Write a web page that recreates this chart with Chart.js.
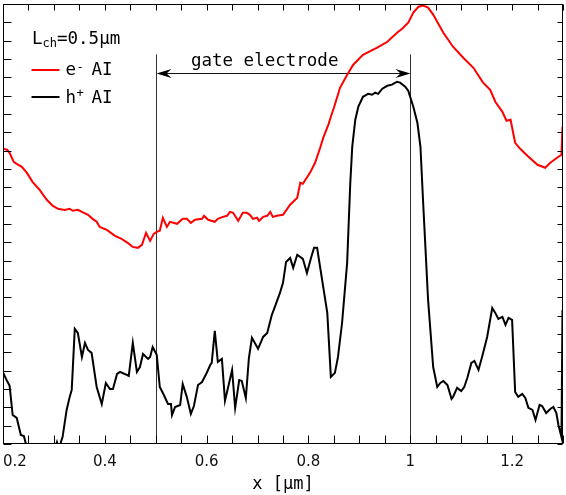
<!DOCTYPE html>
<html>
<head>
<meta charset="utf-8">
<script src="https://cdn.jsdelivr.net/npm/chart.js@4.4.1/dist/chart.umd.min.js"></script>
<style>
  html, body { margin: 0; padding: 0; background: #fff; }
  #wrap { width: 566px; height: 495px; position: relative; }
</style>
</head>
<body>
<div id="wrap"><canvas id="c" width="566" height="495"></canvas></div>
<script>
// ---- data ----
const eX = [0.200,0.208,0.213,0.221,0.227,0.237,0.247,0.258,0.272,0.286,0.298,0.308,0.321,0.331,0.337,0.347,0.355,0.367,0.376,0.384,0.390,0.404,0.420,0.433,0.445,0.455,0.465,0.473,0.481,0.489,0.496,0.502,0.508,0.514,0.522,0.528,0.542,0.553,0.561,0.569,0.577,0.591,0.595,0.603,0.616,0.622,0.632,0.640,0.646,0.652,0.662,0.671,0.679,0.685,0.691,0.699,0.703,0.711,0.719,0.725,0.730,0.738,0.750,0.764,0.778,0.784,0.789,0.803,0.813,0.823,0.829,0.839,0.844,0.850,0.862,0.876,0.888,0.907,0.935,0.955,0.974,0.984,0.996,1.006,1.016,1.025,1.035,1.045,1.065,1.084,1.104,1.124,1.143,1.157,1.167,1.181,1.189,1.197,1.206,1.216,1.230,1.250,1.265,1.275,1.291,1.297,1.299];
const eY = [16.10,16.05,15.88,15.39,15.28,15.12,14.79,14.30,13.86,13.32,12.99,12.83,12.77,12.83,12.72,12.77,12.66,12.50,12.28,12.12,11.84,11.68,11.35,11.19,10.97,10.75,10.70,10.86,11.52,11.08,11.46,11.57,11.63,12.34,11.84,12.12,12.01,12.28,12.28,12.06,12.23,12.28,12.45,12.23,12.12,12.28,12.39,12.45,12.66,12.61,12.17,12.61,12.61,12.50,12.28,12.34,12.17,12.39,12.45,12.66,12.39,12.45,12.50,13.05,13.43,14.25,14.19,14.79,15.34,16.16,16.70,17.41,17.85,18.34,19.43,20.14,20.69,21.23,21.62,21.94,22.43,22.65,22.98,23.53,23.85,23.91,23.80,23.42,22.43,21.67,21.07,20.52,19.71,19.32,18.67,18.12,17.63,17.69,16.43,16.10,15.72,15.23,15.07,15.34,15.67,15.77,17.30];

const hX = [0.200,0.207,0.213,0.219,0.227,0.235,0.241,0.245,0.260,0.290,0.300,0.306,0.309,0.313,0.317,0.325,0.331,0.335,0.341,0.347,0.355,0.361,0.367,0.374,0.384,0.394,0.402,0.410,0.416,0.424,0.430,0.439,0.447,0.455,0.463,0.469,0.475,0.485,0.489,0.494,0.502,0.508,0.516,0.524,0.530,0.532,0.538,0.548,0.553,0.561,0.569,0.575,0.583,0.591,0.601,0.607,0.610,0.616,0.622,0.630,0.636,0.650,0.656,0.664,0.669,0.677,0.683,0.689,0.701,0.711,0.719,0.728,0.734,0.744,0.750,0.756,0.764,0.770,0.778,0.789,0.797,0.805,0.811,0.817,0.829,0.837,0.844,0.852,0.858,0.866,0.876,0.882,0.886,0.892,0.898,0.907,0.917,0.925,0.931,0.937,0.945,0.955,0.964,0.974,0.980,0.990,0.996,1.006,1.014,1.020,1.025,1.035,1.045,1.053,1.059,1.065,1.073,1.081,1.084,1.092,1.100,1.106,1.112,1.120,1.126,1.134,1.141,1.151,1.161,1.167,1.173,1.181,1.187,1.193,1.200,1.206,1.212,1.220,1.226,1.232,1.240,1.246,1.254,1.259,1.267,1.275,1.281,1.287,1.291,1.297,1.299];
const hY = [3.90,3.49,3.17,1.58,1.42,0.49,0.44,0.00,-1.00,-1.00,-0.40,0.10,-0.20,0.05,0.38,1.86,2.57,2.95,6.28,6.06,4.75,5.51,5.13,4.97,3.11,2.18,3.33,3.00,3.00,3.82,3.93,3.82,3.71,5.51,3.93,4.20,4.91,4.64,4.75,5.29,4.86,3.11,2.67,2.18,2.18,1.58,2.02,2.13,3.28,2.57,1.64,2.07,3.22,3.38,3.93,4.31,4.42,6.17,4.48,4.64,2.35,4.04,1.97,3.49,3.44,2.51,4.69,5.79,5.19,5.84,6.06,7.04,7.48,8.24,8.79,9.93,10.15,9.61,10.32,10.10,9.33,10.15,10.70,10.70,8.57,7.15,3.66,3.88,4.75,6.60,9.88,14.14,16.21,17.69,18.40,18.94,19.10,19.05,19.16,19.10,19.38,19.54,19.60,19.76,19.71,19.49,19.27,18.40,17.52,16.21,13.32,7.86,4.20,3.11,3.33,3.44,3.22,2.46,2.57,3.06,2.89,3.11,3.60,4.42,4.53,4.04,4.75,5.84,7.42,7.15,6.82,6.93,6.50,6.88,6.77,2.84,2.57,2.73,2.51,1.97,1.86,1.31,2.13,2.07,1.69,1.91,2.02,1.69,1.04,0.38,7.31];

const xTickValues = [0.2, 0.4, 0.6, 0.8, 1.0, 1.2, 1.3];
const xTickLabels = ['0.2', '0.4', '0.6', '0.8', '1', '1.2', ''];
const xRange = [0.2, 1.3];
const yRange = [0, 24];
const gateX = [0.5, 1.0];
const gateTop = 21.25;
const arrowY = 20.23;

// ---- helpers ----
const toPts = (xs, ys) => xs.map((v, i) => ({ x: v, y: ys[i] }));
const MONO = '"DejaVu Sans Mono", monospace';

const decor = {
  id: 'decor',
  beforeDatasetsDraw(chart) {
    const { ctx, chartArea: a, scales: { x, y } } = chart;
    ctx.save();
    ctx.strokeStyle = '#333';
    ctx.lineWidth = 1;
    gateX.forEach(v => {
      const px = Math.round(x.getPixelForValue(v)) + 0.5;
      ctx.beginPath();
      ctx.moveTo(px, y.getPixelForValue(gateTop));
      ctx.lineTo(px, a.bottom);
      ctx.stroke();
    });
    // arrow
    const x1 = Math.round(x.getPixelForValue(gateX[0])) + 0.5;
    const x2 = Math.round(x.getPixelForValue(gateX[1])) + 0.5;
    const ay = Math.round(y.getPixelForValue(arrowY)) + 0.5;
    ctx.strokeStyle = '#111';
    ctx.beginPath(); ctx.moveTo(x1 + 6, ay); ctx.lineTo(x2 - 6, ay); ctx.stroke();
    ctx.fillStyle = '#000';
    const head = (tip, dir) => {
      ctx.beginPath();
      ctx.moveTo(tip, ay);
      ctx.lineTo(tip + dir * 15, ay - 4.5);
      ctx.lineTo(tip + dir * 10, ay);
      ctx.lineTo(tip + dir * 15, ay + 4.5);
      ctx.closePath();
      ctx.fill();
    };
    head(x1, 1); head(x2, -1);
    // label
    ctx.font = '17.5px ' + MONO;
    ctx.textAlign = 'center';
    ctx.textBaseline = 'alphabetic';
    ctx.fillText('gate electrode', x.getPixelForValue(0.714), y.getPixelForValue(20.63));
    ctx.restore();
  },
  afterDraw(chart) {
    const { ctx, chartArea: a, scales: { x, y } } = chart;
    ctx.save();
    ctx.strokeStyle = '#000';
    ctx.lineWidth = 1;
    const L = a.left + 0.5, R = a.right - 0.5, T = a.top + 0.5, B = a.bottom - 0.5;
    ctx.strokeRect(L, T, R - L, B - T);
    ctx.beginPath();
    for (let k = 0; k <= 22; k++) {
      const v = xRange[0] + k * 0.05;
      const px = Math.round(x.getPixelForValue(v)) + 0.5;
      ctx.moveTo(px, B); ctx.lineTo(px, B - 8);
      ctx.moveTo(px, T); ctx.lineTo(px, T + 6);
    }
    for (let k = 0; k <= 24; k++) {
      const py = Math.round(y.getPixelForValue(k)) + 0.5;
      ctx.moveTo(L, py); ctx.lineTo(L + 8, py);
      ctx.moveTo(R, py); ctx.lineTo(R - 5, py);
    }
    ctx.stroke();

    // legend / annotation text
    ctx.fillStyle = '#000';
    ctx.textAlign = 'left';
    ctx.textBaseline = 'alphabetic';
    const big = '17.5px ' + MONO, small = '12px ' + MONO;
    let cx = 32;
    ctx.font = big; ctx.fillText('L', cx, 43.5); cx += ctx.measureText('L').width;
    ctx.font = small; ctx.fillText('ch', cx, 47); cx += ctx.measureText('ch').width;
    ctx.font = big; ctx.fillText('=0.5µm', cx, 43.5);

    const ds = chart.data.datasets;
    [[70, 75, '-', 70.5], [97, 102.7, '+', 97]].forEach(([ly, by, sup, sy], i) => {
      ctx.strokeStyle = ds[i].borderColor;
      ctx.lineWidth = 2;
      ctx.beginPath(); ctx.moveTo(31.5, ly); ctx.lineTo(59.5, ly); ctx.stroke();
      ctx.font = big;
      ctx.fillText(i === 0 ? 'e' : 'h', 65.5, by);
      ctx.font = small;
      ctx.fillText(sup, 76.5, sy);
      ctx.font = big;
      ctx.fillText('AI', 91.5, by);
    });
    ctx.restore();
  }
};

new Chart(document.getElementById('c'), {
  type: 'line',
  data: {
    datasets: [
      { label: 'e⁻ AI', data: toPts(eX, eY), borderColor: '#ff0000', borderWidth: 2, pointRadius: 0, tension: 0, fill: false },
      { label: 'h⁺ AI', data: toPts(hX, hY), borderColor: '#000000', borderWidth: 2, pointRadius: 0, tension: 0, fill: false }
    ]
  },
  options: {
    responsive: false,
    animation: false,
    layout: { padding: { left: 3, right: 3, top: 4, bottom: 0 } },
    plugins: { legend: { display: false }, tooltip: { enabled: false } },
    scales: {
      x: {
        type: 'linear',
        min: xRange[0], max: xRange[1],
        grid: { display: false, drawTicks: false },
        border: { display: false },
        afterBuildTicks: s => { s.ticks = xTickValues.map(v => ({ value: v })); },
        afterFit: s => { s.height = 51; s.paddingLeft = 0; s.paddingRight = 0; },
        ticks: {
          autoSkip: false, maxRotation: 0, minRotation: 0, align: 'inner', padding: 9,
          color: '#111', font: { family: 'DejaVu Sans', size: 15 },
          callback: (v, i) => xTickLabels[i]
        },
        title: { display: true, text: 'x [µm]', color: '#000', font: { family: 'DejaVu Sans Mono', size: 17 }, padding: { top: 0, bottom: 0 } }
      },
      y: {
        type: 'linear', display: false,
        min: yRange[0], max: yRange[1]
      }
    }
  },
  plugins: [decor]
});
</script>
</body>
</html>
